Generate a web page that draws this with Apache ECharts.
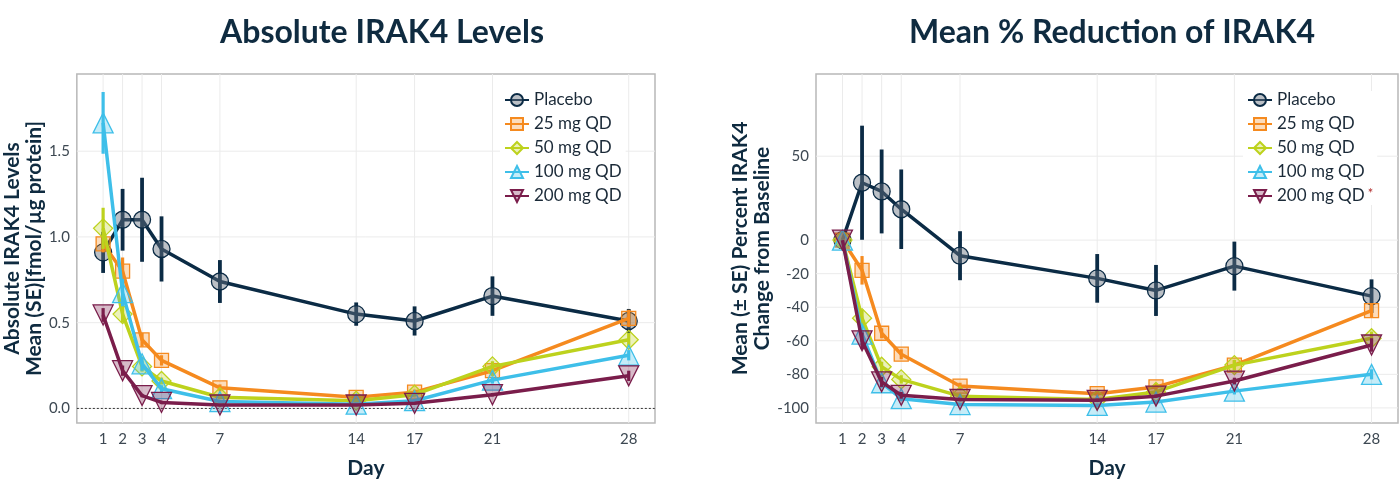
<!DOCTYPE html>
<html>
<head>
<meta charset="utf-8">
<script src="https://cdn.jsdelivr.net/npm/echarts@6/dist/echarts.min.js"></script>
<style>
  html, body { margin: 0; padding: 0; background: #fff; }
  #chart { width: 1400px; height: 484px; }
</style>
</head>
<body>
<div id="chart"></div>
<script>
var days = [1, 2, 3, 4, 7, 14, 17, 21, 28];
var groups = ['Placebo', '25 mg QD', '50 mg QD', '100 mg QD', '200 mg QD'];

// absolute IRAK4, fmol/ug protein
var absPlacebo = [0.91, 1.10, 1.10, 0.93, 0.74, 0.55, 0.51, 0.655, 0.51];
var absPlaceboSE = [0.12, 0.18, 0.245, 0.19, 0.125, 0.068, 0.085, 0.115, 0.07];
var abs25 = [0.96, 0.80, 0.40, 0.28, 0.12, 0.065, 0.095, 0.22, 0.525];
var abs25SE = [0.05, 0.08, 0.04, 0.03, 0.02, 0.01, 0.015, 0.03, 0.05];
var abs50 = [1.05, 0.55, 0.245, 0.16, 0.065, 0.045, 0.08, 0.245, 0.40];
var abs50SE = [0.12, 0.05, 0.03, 0.02, 0.01, 0.01, 0.01, 0.03, 0.04];
var abs100 = [1.665, 0.675, 0.26, 0.115, 0.04, 0.025, 0.045, 0.165, 0.31];
var abs100SE = [0.18, 0.08, 0.04, 0.02, 0.01, 0.01, 0.01, 0.02, 0.03];
var abs200 = [0.545, 0.22, 0.075, 0.035, 0.02, 0.02, 0.03, 0.08, 0.19];
var abs200SE = [0.04, 0.03, 0.01, 0.01, 0.005, 0.005, 0.005, 0.01, 0.03];

// percent change from baseline
var pctPlacebo = [0, 34.2, 29, 18.4, -9.3, -22.8, -30, -15.5, -33.4];
var pctPlaceboSE = [0, 34, 25, 23.7, 14.6, 14.5, 15.2, 14.6, 10];
var pct25 = [0, -18, -55.5, -68, -87, -91.5, -87.5, -74.5, -42];
var pct25SE = [0, 8.5, 3, 3, 2, 1.5, 2, 3, 4];
var pct50 = [0, -46.5, -75.5, -83, -93, -95, -90.5, -74.5, -58.5];
var pct50SE = [0, 5, 3, 2.5, 1.5, 1, 1.5, 3, 4];
var pct100 = [0, -56, -85, -94.5, -98, -98.5, -96.5, -90, -80];
var pct100SE = [0, 5, 3, 1.5, 1, 1, 1, 2, 3];
var pct200 = [0, -60, -84.5, -92.5, -95, -95.5, -93, -84, -62.5];
var pct200SE = [0, 5, 3, 2, 1, 1, 1, 2, 4];

var absTicks = [0, 0.5, 1.0, 1.5];
var pctTicks = [-100, -80, -60, -40, -20, 0, 50];

var colors = ['#0b2b45', '#f58a1f', '#bdd21d', '#3ebfe9', '#7a1d4b'];
var fills = ['rgba(105,115,128,0.45)', 'rgba(245,138,31,0.3)', 'rgba(189,210,29,0.3)',
             'rgba(62,191,233,0.3)', 'rgba(122,29,75,0.3)'];
var symbols = ['circle', 'rect', 'diamond', 'triangle', 'triangle'];
var symbolSizes = [17, 14, 19, 20, 20];
var rotates = [0, 0, 0, 0, 180];

var font = 'Lato';
var navy = '#0f2b40';
var tickColor = '#3d4852';

var chartDom = document.getElementById('chart');
var myChart = echarts.init(chartDom);

function lineSeries(gi, k, values) {
  return {
    name: groups[k],
    type: 'line',
    xAxisIndex: gi,
    yAxisIndex: gi,
    z: 3 + k,
    data: days.map(function (d, i) { return [d, values[i]]; }),
    symbol: symbols[k],
    symbolSize: symbolSizes[k],
    symbolRotate: rotates[k],
    showAllSymbol: true,
    lineStyle: { color: colors[k], width: 3.5 },
    itemStyle: { color: fills[k], borderColor: colors[k], borderWidth: 1.3, opacity: 1 },
    emphasis: { disabled: true }
  };
}

function errSeries(gi, k, means, se) {
  return {
    type: 'custom',
    xAxisIndex: gi,
    yAxisIndex: gi,
    silent: true,
    z: 3 + k,
    data: days.map(function (d, i) { return [d, means[i] - se[i], means[i] + se[i]]; }),
    encode: { x: 0, y: [1, 2] },
    renderItem: function (params, api) {
      var a = api.coord([api.value(0), api.value(1)]);
      var b = api.coord([api.value(0), api.value(2)]);
      return {
        type: 'line',
        shape: { x1: a[0], y1: a[1], x2: b[0], y2: b[1] },
        style: { stroke: colors[k], lineWidth: k === 0 ? 3.8 : 3.2 }
      };
    }
  };
}

// grid lines drawn as custom lines so they sit only at the tick values
function gridSeries(gi, yTicks) {
  var items = days.map(function (d) { return [d, 0, 0]; })
    .concat(yTicks.map(function (v) { return [1, v, 1]; }));
  return {
    type: 'custom',
    xAxisIndex: gi,
    yAxisIndex: gi,
    silent: true,
    z: 1,
    data: items,
    renderItem: function (params, api) {
      var cs = params.coordSys;
      var p = api.coord([api.value(0), api.value(1)]);
      var shape = api.value(2) === 0
        ? { x1: p[0], y1: cs.y, x2: p[0], y2: cs.y + cs.height }
        : { x1: cs.x, y1: p[1], x2: cs.x + cs.width, y2: p[1] };
      return { type: 'line', shape: shape, style: { stroke: '#ebebeb', lineWidth: 1 } };
    }
  };
}

var zeroLine = {
  type: 'custom',
  xAxisIndex: 0,
  yAxisIndex: 0,
  silent: true,
  z: 2,
  data: [[1, 0]],
  renderItem: function (params, api) {
    var cs = params.coordSys;
    var p = api.coord([api.value(0), api.value(1)]);
    return {
      type: 'line',
      shape: { x1: cs.x, y1: p[1], x2: cs.x + cs.width, y2: p[1] },
      style: { stroke: '#333', lineWidth: 1, lineDash: [2, 2] }
    };
  }
};

var absSets = [[absPlacebo, absPlaceboSE], [abs25, abs25SE], [abs50, abs50SE], [abs100, abs100SE], [abs200, abs200SE]];
var pctSets = [[pctPlacebo, pctPlaceboSE], [pct25, pct25SE], [pct50, pct50SE], [pct100, pct100SE], [pct200, pct200SE]];

var series = [gridSeries(0, absTicks), gridSeries(1, pctTicks), zeroLine];
absSets.forEach(function (s, k) {
  series.push(lineSeries(0, k, s[0]));
  series.push(errSeries(0, k, s[0], s[1]));
});
pctSets.forEach(function (s, k) {
  series.push(lineSeries(1, k, s[0]));
  series.push(errSeries(1, k, s[0], s[1]));
});

function xAxis(gi) {
  return {
    type: 'value',
    gridIndex: gi,
    min: -0.35,
    max: 29.35,
    name: 'Day',
    nameLocation: 'middle',
    nameGap: 35,
    nameTextStyle: { fontFamily: font, fontSize: 21, fontWeight: 'bold', color: navy },
    axisLine: { show: false },
    axisTick: { show: false },
    splitLine: { show: false },
    axisLabel: {
      customValues: days,
      margin: 9,
      fontFamily: font,
      fontSize: 15,
      color: tickColor
    }
  };
}

function yAxis(gi, min, max, ticks, name, gap, fmt) {
  return {
    type: 'value',
    gridIndex: gi,
    min: min,
    max: max,
    name: name,
    nameLocation: 'middle',
    nameRotate: 90,
    nameGap: gap,
    nameTextStyle: { fontFamily: font, fontSize: 21, fontWeight: 'bold', color: navy, lineHeight: 22 },
    axisLine: { show: false },
    axisTick: { show: false },
    splitLine: { show: false },
    axisLabel: {
      customValues: ticks,
      margin: 7,
      fontFamily: font,
      fontSize: 15,
      color: tickColor,
      formatter: fmt
    }
  };
}

function legend(left, star) {
  return {
    orient: 'vertical',
    left: left,
    top: 91,
    padding: [0, 4],
    backgroundColor: '#fff',
    itemWidth: 24,
    itemHeight: 15,
    itemGap: 6,
    selectedMode: false,
    data: groups,
    formatter: function (name) {
      return star && name === '200 mg QD' ? '{a|' + name + '}{s|*}' : name;
    },
    textStyle: {
      fontFamily: font,
      fontSize: 17,
      lineHeight: 18,
      color: '#1b2a38',
      rich: {
        a: { fontFamily: font, fontSize: 17, lineHeight: 18, color: '#1b2a38' },
        s: { fontFamily: font, fontSize: 13, color: '#b02a2a', verticalAlign: 'top', lineHeight: 10, padding: [0, 0, 0, 3] }
      }
    }
  };
}

myChart.setOption({
  animation: false,
  title: [
    { text: 'Absolute IRAK4 Levels', left: 377, top: 12, textAlign: 'center',
      textStyle: { fontFamily: font, fontSize: 32, fontWeight: 'bold', color: navy } },
    { text: 'Mean % Reduction of IRAK4', left: 1107, top: 12, textAlign: 'center',
      textStyle: { fontFamily: font, fontSize: 32, fontWeight: 'bold', color: navy } }
  ],
  legend: [legend(500, false), legend(1243, true)],
  grid: [
    { left: 72, top: 74, width: 583, height: 359, show: true, borderColor: '#b8b8b8', borderWidth: 1.5, backgroundColor: 'transparent' },
    { left: 816, top: 74, width: 582, height: 359, show: true, borderColor: '#b8b8b8', borderWidth: 1.5, backgroundColor: 'transparent' }
  ],
  xAxis: [xAxis(0), xAxis(1)],
  yAxis: [
    yAxis(0, -0.085, 1.95, absTicks, 'Absolute IRAK4 Levels\nMean (SE)[fmol/µg protein]', 30,
      function (v) { return v.toFixed(1); }),
    yAxis(1, -109, 99, pctTicks, 'Mean (± SE) Percent IRAK4\nChange from Baseline', 43,
      function (v) { return String(v); })
  ],
  series: series
});
</script>
</body>
</html>
